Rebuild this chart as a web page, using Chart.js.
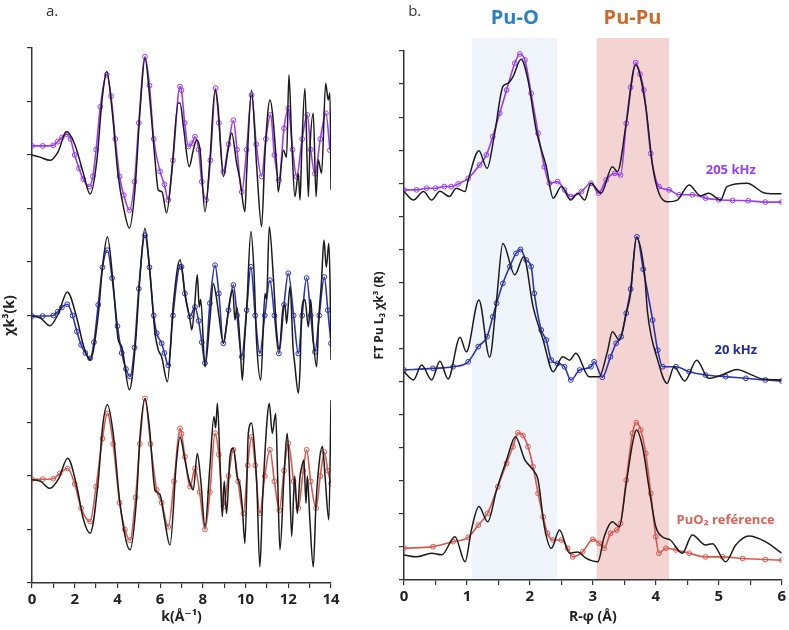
<!DOCTYPE html>
<html>
<head>
<meta charset="utf-8">
<script src="https://cdn.jsdelivr.net/npm/chart.js@4.4.0/dist/chart.umd.min.js"></script>
<style>
  body { margin: 0; background: #fff; width: 789px; height: 630px; overflow: hidden; position: relative; }
  canvas { position: absolute; top: 0; }
  #chartK { left: 0; }
  #chartR { left: 360px; }
</style>
</head>
<body>
<canvas id="chartK" width="345" height="630"></canvas>
<canvas id="chartR" width="429" height="630"></canvas>
<script>
// ---- panel a : chi(k) k^3, curves stacked with offsets ----
const k205exp = [0, 0.37, 0.84, 1.22, 1.62, 2.01, 2.39, 2.72, 3.04, 3.28,
  3.5, 3.75, 4.03, 4.31, 4.56, 4.82, 5.06, 5.29, 5.52, 5.76,
  5.91, 6.09, 6.3, 6.55, 6.85, 6.93, 7.1, 7.36, 7.55, 7.71,
  7.87, 8.1, 8.33, 8.57, 8.71, 8.96, 9.18, 9.35, 9.58, 9.74,
  9.97, 10.05, 10.28, 10.52, 10.75, 10.91, 11.14, 11.46, 11.53, 11.77,
  11.92, 12.03, 12.16, 12.31, 12.47, 12.55, 12.63, 12.78, 12.94, 13.01,
  13.17, 13.3, 13.4, 13.56, 13.75, 13.87, 13.95, 14.0];
const chi205exp = [8.0, 7.96, 7.9, 8.06, 8.44, 8.19, 7.68, 7.27, 7.91, 9.03,
  9.56, 8.84, 7.63, 6.97, 6.63, 7.35, 8.84, 9.81, 9.03, 7.91,
  7.35, 7.31, 6.92, 7.72, 8.97, 8.97, 8.5, 7.78, 8.09, 8.28,
  8.09, 6.94, 7.91, 9.21, 8.9, 7.6, 8.09, 8.41, 7.85, 7.53,
  6.94, 7.66, 9.21, 7.78, 6.66, 8.04, 9.03, 7.78, 7.31, 8.09,
  7.96, 9.5, 8.28, 7.22, 7.66, 7.16, 8.09, 9.25, 7.22, 8.09,
  8.78, 7.22, 7.91, 7.66, 9.34, 9.03, 9.16, 7.35];
const k205fit = [0, 0.5, 1.0, 1.2, 1.4, 1.62, 1.8, 2.0, 2.2, 2.4,
  2.68, 2.85, 3.0, 3.2, 3.5, 3.7, 3.9, 4.1, 4.3, 4.56,
  4.8, 5.0, 5.29, 5.5, 5.7, 6.0, 6.2, 6.38, 6.6, 6.93,
  7.0, 7.15, 7.32, 7.5, 7.63, 7.8, 7.95, 8.15, 8.35, 8.6,
  8.75, 8.96, 9.2, 9.43, 9.6, 9.82, 10.05, 10.28, 10.5, 10.75,
  10.95, 11.17, 11.35, 11.56, 11.8, 12.0, 12.2, 12.39, 12.65, 12.89,
  13.05, 13.25, 13.5, 13.76, 13.95];
const chi205fit = [8.17, 8.17, 8.18, 8.25, 8.33, 8.39, 8.3, 8.0, 7.75, 7.55,
  7.41, 7.6, 8.1, 8.9, 9.5, 9.1, 8.3, 7.6, 7.25, 6.97,
  7.5, 8.6, 9.84, 9.3, 8.3, 7.69, 7.45, 7.16, 7.9, 9.28,
  9.21, 8.6, 8.16, 8.22, 8.34, 8.1, 7.5, 7.16, 7.9, 9.25,
  8.6, 7.69, 8.2, 8.65, 8.1, 7.31, 8.1, 9.12, 8.2, 7.6,
  8.3, 8.75, 8.0, 7.53, 8.5, 8.87, 8.1, 7.6, 8.3, 8.75,
  8.1, 7.65, 8.3, 8.78, 8.09];

const k20exp = [0, 0.4, 0.84, 1.25, 1.65, 2.1, 2.4, 2.72, 3.1, 3.3,
  3.53, 3.8, 4.04, 4.2, 4.56, 4.85, 5.05, 5.29, 5.5, 5.76,
  5.91, 6.07, 6.34, 6.62, 6.93, 7.16, 7.4, 7.48, 7.6, 7.74,
  7.83, 7.9, 8.1, 8.33, 8.49, 8.63, 8.75, 8.96, 9.1, 9.27,
  9.4, 9.5, 9.6, 9.74, 9.85, 9.95, 10.05, 10.25, 10.39, 10.52,
  10.71, 10.91, 10.98, 11.11, 11.3, 11.46, 11.58, 11.74, 11.85, 11.92,
  12.08, 12.23, 12.3, 12.47, 12.55, 12.63, 12.78, 12.94, 13.05, 13.17,
  13.33, 13.42, 13.55, 13.67, 13.78, 13.9, 13.96, 14.0];
const chi20exp = [4.99, 4.95, 4.81, 5.05, 5.44, 4.95, 4.45, 4.17, 5.0, 5.9,
  6.47, 5.6, 4.54, 4.42, 3.61, 4.5, 5.7, 6.63, 5.9, 4.67,
  4.36, 4.23, 3.76, 5.23, 6.04, 5.41, 4.92, 4.73, 5.1, 5.76,
  5.16, 5.3, 4.04, 4.92, 5.6, 5.35, 5.0, 4.48, 4.8, 5.29,
  5.48, 4.92, 5.15, 4.48, 3.79, 4.5, 5.1, 6.57, 5.85, 4.48,
  3.79, 5.41, 5.3, 6.66, 5.72, 4.67, 4.36, 5.1, 5.2, 4.85,
  5.54, 4.36, 4.1, 3.55, 4.0, 5.1, 5.3, 4.79, 5.3, 4.54,
  4.04, 4.9, 5.6, 6.41, 5.9, 6.35, 5.5, 4.17];
const k20fit = [0, 0.5, 1.0, 1.2, 1.4, 1.65, 1.9, 2.1, 2.3, 2.5,
  2.72, 2.9, 3.1, 3.3, 3.53, 3.75, 4.0, 4.2, 4.4, 4.59,
  4.8, 5.0, 5.29, 5.5, 5.7, 5.84, 6.07, 6.2, 6.38, 6.6,
  6.93, 7.0, 7.16, 7.4, 7.63, 7.8, 7.95, 8.1, 8.33, 8.57,
  8.75, 8.96, 9.2, 9.43, 9.6, 9.82, 10.05, 10.25, 10.45, 10.67,
  10.9, 11.14, 11.35, 11.56, 11.8, 12.0, 12.25, 12.47, 12.65, 12.86,
  13.05, 13.25, 13.45, 13.69, 13.85, 14.0];
const chi20fit = [4.99, 4.99, 5.0, 5.07, 5.15, 5.21, 5.0, 4.7, 4.45, 4.3,
  4.2, 4.5, 5.2, 5.9, 6.22, 5.7, 4.8, 4.3, 4.0, 3.86,
  4.4, 5.5, 6.5, 5.9, 5.0, 4.67, 4.48, 4.3, 4.07, 5.0,
  5.91, 5.91, 5.41, 4.98, 5.16, 4.9, 4.5, 4.11, 5.23, 5.94,
  5.41, 4.48, 5.1, 5.57, 5.0, 4.23, 5.1, 5.91, 5.0, 4.29,
  5.0, 5.66, 5.0, 4.29, 5.2, 5.79, 5.0, 4.29, 5.0, 5.7,
  5.0, 4.32, 5.0, 5.72, 5.1, 4.48];

const kRefExp = [0, 0.4, 0.84, 1.25, 1.67, 2.1, 2.4, 2.72, 3.1, 3.3,
  3.53, 3.8, 4.12, 4.59, 4.9, 5.05, 5.29, 5.5, 5.76, 5.99,
  6.2, 6.46, 6.77, 6.93, 7.16, 7.35, 7.55, 7.74, 7.9, 8.1,
  8.33, 8.52, 8.6, 8.68, 8.8, 8.91, 9.0, 9.11, 9.27, 9.43,
  9.6, 9.75, 9.85, 9.97, 10.13, 10.28, 10.4, 10.52, 10.67, 10.8,
  11.02, 11.11, 11.25, 11.41, 11.5, 11.61, 11.8, 11.95, 12.05, 12.16,
  12.3, 12.42, 12.55, 12.63, 12.73, 12.83, 12.89, 13.01, 13.17, 13.3,
  13.48, 13.6, 13.72, 13.9, 14.0];
const chiRefExp = [1.93, 1.9, 1.77, 1.95, 2.33, 1.8, 1.2, 0.93, 1.9, 2.9,
  3.33, 2.8, 1.49, 0.62, 1.6, 2.7, 3.45, 2.9, 1.74, 1.66,
  1.2, 0.71, 2.3, 2.73, 2.3, 1.93, 1.74, 2.42, 1.93, 1.05,
  2.18, 3.11, 2.9, 3.36, 2.3, 1.24, 1.9, 1.3, 2.36, 2.52,
  2.0, 1.8, 1.4, 0.74, 2.8, 2.99, 2.6, 1.9, 0.3, 1.6,
  3.11, 3.36, 2.8, 3.17, 2.0, 0.62, 2.0, 2.8, 2.1, 0.87,
  2.0, 1.3, 2.0, 2.17, 2.3, 1.49, 2.0, 1.18, 0.3, 1.5,
  2.36, 2.55, 2.0, 1.18, 3.42];
const kRefFit = [0, 0.5, 1.0, 1.3, 1.67, 2.0, 2.3, 2.72, 3.0, 3.3,
  3.53, 3.8, 4.1, 4.35, 4.59, 4.85, 5.05, 5.29, 5.55, 5.84,
  6.07, 6.38, 6.65, 6.93, 7.0, 7.16, 7.4, 7.63, 7.85, 8.1,
  8.33, 8.57, 8.75, 8.96, 9.2, 9.43, 9.65, 9.9, 10.1, 10.28,
  10.45, 10.67, 10.9, 11.14, 11.35, 11.58, 11.8, 12.0, 12.25, 12.47,
  12.7, 12.86, 13.05, 13.3, 13.5, 13.69, 13.85, 14.0];
const chiRefFit = [1.94, 1.94, 1.95, 2.05, 2.14, 1.85, 1.4, 1.15, 1.8, 2.7,
  3.17, 2.6, 1.5, 1.0, 0.8, 1.6, 2.6, 3.45, 2.6, 1.74,
  1.5, 1.05, 1.9, 2.89, 2.79, 2.36, 1.8, 2.14, 1.7, 1.0,
  1.7, 2.8, 2.4, 1.43, 2.0, 2.49, 1.9, 1.3, 2.2, 2.73,
  2.2, 1.3, 2.0, 2.49, 1.9, 1.36, 2.1, 2.61, 1.9, 1.4,
  2.1, 2.49, 1.9, 1.4, 2.0, 2.45, 2.1, 1.86];

// ---- panel b : Fourier transforms, stacked ----
const r205exp = [0, 0.15, 0.31, 0.44, 0.57, 0.72, 0.83, 0.97, 1.02, 1.19,
  1.32, 1.44, 1.57, 1.65, 1.73, 1.86, 1.97, 2.1, 2.26, 2.37,
  2.5, 2.65, 2.76, 2.87, 2.97, 3.13, 3.31, 3.39, 3.53, 3.68,
  3.84, 3.95, 4.05, 4.18, 4.34, 4.53, 4.71, 4.84, 5.03, 5.13,
  5.45, 5.74, 6.0];
const ft205exp = [11.75, 11.49, 11.75, 11.49, 11.76, 11.6, 11.85, 11.75, 12.1, 12.98,
  12.45, 13.51, 14.92, 15.02, 15.22, 15.75, 15.12, 13.61, 12.5, 11.55,
  11.9, 11.49, 11.7, 11.49, 12.0, 11.7, 12.5, 12.35, 13.81, 15.58,
  14.32, 12.5, 11.7, 11.44, 11.49, 11.95, 11.62, 11.7, 11.49, 11.9,
  12.0, 11.7, 11.68];
const r205fit = [0, 0.2, 0.36, 0.5, 0.64, 0.75, 0.86, 1.02, 1.2, 1.31,
  1.41, 1.52, 1.63, 1.76, 1.84, 1.92, 2.02, 2.13, 2.23, 2.31,
  2.44, 2.55, 2.65, 2.82, 2.97, 3.09, 3.21, 3.35, 3.44, 3.53,
  3.6, 3.68, 3.75, 3.81, 3.92, 4.05, 4.21, 4.37, 4.58, 4.79,
  5.0, 5.22, 5.47, 5.74, 6.0];
const ft205fit = [11.8, 11.8, 11.85, 11.85, 11.9, 11.9, 11.98, 12.15, 12.55, 12.86,
  13.41, 14.12, 14.82, 15.63, 15.91, 15.73, 14.72, 13.51, 12.5, 12.0,
  12.05, 11.8, 11.6, 11.75, 12.0, 11.7, 12.1, 12.3, 12.25, 13.81,
  14.9, 15.65, 15.3, 14.82, 12.9, 11.9, 11.8, 11.65, 11.65, 11.55,
  11.5, 11.48, 11.47, 11.43, 11.43];

const r20exp = [0, 0.15, 0.28, 0.44, 0.57, 0.7, 0.89, 0.99, 1.19, 1.36,
  1.47, 1.57, 1.76, 1.9, 2.05, 2.21, 2.37, 2.52, 2.63, 2.73,
  2.94, 3.1, 3.23, 3.31, 3.42, 3.53, 3.6, 3.69, 3.82, 3.87,
  4.03, 4.18, 4.29, 4.46, 4.65, 4.84, 5.05, 5.29, 5.47, 5.69,
  6.0];
const ft20exp = [6.3, 6.05, 6.5, 6.05, 6.62, 6.08, 7.34, 6.9, 8.47, 6.74,
  8.47, 10.18, 9.23, 9.78, 8.27, 7.26, 6.3, 6.75, 6.65, 6.86,
  6.15, 6.15, 6.9, 7.51, 7.26, 8.07, 8.67, 10.37, 9.28, 8.07,
  6.65, 5.95, 6.45, 6.02, 6.65, 6.1, 6.2, 6.37, 6.25, 6.08,
  6.05];
const r20fit = [0, 0.46, 0.78, 1.02, 1.18, 1.32, 1.41, 1.47, 1.57, 1.68,
  1.78, 1.85, 1.94, 2.02, 2.07, 2.18, 2.26, 2.34, 2.44, 2.55,
  2.65, 2.79, 2.97, 3.02, 3.15, 3.28, 3.37, 3.45, 3.53, 3.6,
  3.7, 3.8, 3.95, 4.03, 4.11, 4.32, 4.53, 4.79, 5.11, 5.43,
  5.74, 6.0];
const ft20fit = [6.35, 6.4, 6.45, 6.6, 7.06, 7.36, 7.96, 8.37, 8.97, 9.48,
  9.88, 10.0, 9.68, 9.48, 8.67, 7.56, 7.26, 6.65, 6.55, 6.45,
  6.05, 6.35, 6.45, 6.6, 6.13, 6.75, 7.16, 7.36, 8.07, 8.8,
  10.38, 9.4, 7.86, 6.95, 6.45, 6.45, 6.3, 6.2, 6.15, 6.1,
  6.05, 6.02];

const rRefExp = [0, 0.2, 0.44, 0.6, 0.81, 0.97, 1.07, 1.19, 1.33, 1.47,
  1.63, 1.77, 1.92, 2.05, 2.13, 2.23, 2.34, 2.47, 2.63, 2.76,
  2.89, 3.08, 3.18, 3.31, 3.42, 3.53, 3.63, 3.69, 3.79, 3.89,
  4.0, 4.1, 4.23, 4.42, 4.58, 4.79, 4.9, 5.11, 5.27, 5.48,
  5.74, 6.0];
const ftRefExp = [0.76, 0.7, 0.81, 0.76, 1.31, 0.55, 1.51, 2.22, 1.76, 2.72,
  3.63, 4.33, 3.63, 3.33, 3.02, 1.61, 0.96, 1.51, 0.81, 0.85,
  0.66, 0.55, 1.31, 1.76, 1.61, 2.92, 4.13, 4.54, 4.03, 2.82,
  1.61, 1.31, 1.21, 0.81, 1.36, 1.06, 1.1, 0.55, 1.06, 1.33,
  1.16, 0.81];
const rRefFit = [0, 0.46, 0.78, 1.02, 1.18, 1.33, 1.49, 1.63, 1.73, 1.81,
  1.89, 1.97, 2.05, 2.13, 2.21, 2.28, 2.37, 2.5, 2.6, 2.68,
  2.84, 3.0, 3.1, 3.18, 3.28, 3.38, 3.44, 3.53, 3.63, 3.69,
  3.76, 3.84, 3.92, 4.0, 4.05, 4.16, 4.32, 4.53, 4.79, 5.06,
  5.38, 5.74, 6.0];
const ftRefFit = [0.96, 1.01, 1.16, 1.29, 1.66, 2.02, 2.82, 3.53, 4.03, 4.45,
  4.37, 4.03, 3.43, 2.62, 1.91, 1.41, 1.21, 1.21, 0.96, 0.7,
  0.86, 1.23, 1.11, 0.96, 1.41, 1.51, 1.71, 3.02, 4.44, 4.76,
  4.54, 3.83, 2.62, 1.31, 0.81, 0.96, 0.91, 0.81, 0.7, 0.7,
  0.65, 0.62, 0.6];

// shaded shells in R (Å)
const shellPuO = [1.08, 2.43];
const shellPuPu = [3.06, 4.21];

const FONT = "'Open Sans', 'DejaVu Sans', sans-serif";
const PURPLE = '#9b3cf4';
const BLUE = '#2d33b5';
const RED = '#d9584f';

function pts(xs, ys) {
  return xs.map((x, i) => ({ x: x, y: ys[i] }));
}

function expSet(label, xs, ys) {
  return {
    label, data: pts(xs, ys),
    borderColor: '#1b1b1b', borderWidth: 1.5,
    pointRadius: 0, cubicInterpolationMode: 'monotone', order: 1
  };
}

function fitSet(label, xs, ys, color) {
  return {
    label, data: pts(xs, ys),
    borderColor: color, borderWidth: 1.6,
    pointRadius: 2.4, pointBorderWidth: 1,
    pointBorderColor: color, pointBackgroundColor: 'rgba(255,255,255,0)',
    cubicInterpolationMode: 'monotone', order: 2
  };
}

function xAxis(max, step, every, title, height) {
  return {
    type: 'linear', min: 0, max: max,
    ticks: {
      stepSize: step, autoSkip: false, maxRotation: 0, padding: 3, color: '#222',
      font: { family: FONT, size: 15, weight: 'bold' },
      callback: (v) => (Math.abs(v % every) < 1e-6 ? v : '')
    },
    grid: { drawOnChartArea: false, drawTicks: true, tickLength: 5, color: '#333', lineWidth: 1.2 },
    border: { display: true, color: '#333', width: 1.5 },
    title: {
      display: true, text: title, color: '#222',
      font: { family: FONT, size: 14, weight: 'bold' },
      padding: { top: 0, bottom: 5 }
    },
    afterFit: (s) => { s.height = height; }
  };
}

function yAxis(max, title, size, pad, width) {
  return {
    type: 'linear', min: 0, max: max,
    ticks: { display: false, stepSize: 1 },
    grid: { drawOnChartArea: false, drawTicks: true, tickLength: 5, color: '#333', lineWidth: 1.2 },
    border: { display: true, color: '#333', width: 1.5 },
    title: {
      display: true, text: title, color: '#222',
      font: { family: FONT, size: size, weight: 'bold' },
      padding: { top: pad, bottom: 0 }
    },
    afterFit: (s) => { s.width = width; }
  };
}

// shaded bands + text notes, placed through the chart scales
const decor = {
  id: 'decor',
  beforeDraw(chart, args, opts) {
    const { ctx, chartArea, scales } = chart;
    (opts.bands || []).forEach((b) => {
      const x1 = scales.x.getPixelForValue(b.from);
      const x2 = scales.x.getPixelForValue(b.to);
      ctx.save();
      ctx.fillStyle = b.color;
      ctx.fillRect(x1, b.top, x2 - x1, chartArea.bottom - b.top);
      ctx.restore();
    });
  },
  afterDraw(chart, args, opts) {
    const { ctx, scales } = chart;
    (opts.notes || []).forEach((n) => {
      ctx.save();
      ctx.font = n.font;
      ctx.fillStyle = n.color;
      ctx.textAlign = 'center';
      ctx.textBaseline = 'middle';
      ctx.fillText(n.text, scales.x.getPixelForValue(n.x), scales.y.getPixelForValue(n.y));
      ctx.restore();
    });
  }
};

const common = {
  responsive: false,
  animation: false,
  events: [],
  plugins: { legend: { display: false }, tooltip: { enabled: false } }
};

new Chart(document.getElementById('chartK'), {
  type: 'line',
  data: {
    datasets: [
      expSet('205 kHz', k205exp, chi205exp),
      fitSet('205 kHz fit', k205fit, chi205fit, PURPLE),
      expSet('20 kHz', k20exp, chi20exp),
      fitSet('20 kHz fit', k20fit, chi20fit, BLUE),
      expSet('PuO2', kRefExp, chiRefExp),
      fitSet('PuO2 fit', kRefFit, chiRefFit, RED)
    ]
  },
  options: {
    ...common,
    layout: { padding: { left: 0, top: 48, right: 14, bottom: 0 } },
    scales: {
      x: xAxis(14, 1, 2, 'k(Å⁻¹)', 47),
      y: yAxis(10, 'χk³(k)', 14, 2, 32)
    },
    plugins: {
      ...common.plugins,
      decor: {
        notes: [
          { text: 'a.', x: 0.94, y: 10.67, color: '#333', font: '15px ' + FONT }
        ]
      }
    }
  },
  plugins: [decor]
});

new Chart(document.getElementById('chartR'), {
  type: 'line',
  data: {
    datasets: [
      expSet('205 kHz', r205exp, ft205exp),
      fitSet('205 kHz fit', r205fit, ft205fit, PURPLE),
      expSet('20 kHz', r20exp, ft20exp),
      fitSet('20 kHz fit', r20fit, ft20fit, BLUE),
      expSet('PuO2', rRefExp, ftRefExp),
      fitSet('PuO2 fit', rRefFit, ftRefFit, RED)
    ]
  },
  options: {
    ...common,
    layout: { padding: { left: 0, top: 51, right: 6, bottom: 0 } },
    scales: {
      x: xAxis(6, 0.5, 1, 'R-φ (Å)', 50),
      y: yAxis(16, 'FT Pu L₃ χk³ (R)', 12, 12, 44)
    },
    plugins: {
      ...common.plugins,
      decor: {
        bands: [
          { from: shellPuO[0], to: shellPuO[1], top: 38, color: '#eef4fa' },
          { from: shellPuPu[0], to: shellPuPu[1], top: 38, color: '#f4d3d3' }
        ],
        notes: [
          { text: 'b.', x: 0.17, y: 17.18, color: '#333', font: '15px ' + FONT },
          { text: 'Pu-O', x: 1.76, y: 17.0, color: '#2a80c6', font: 'bold 20px ' + FONT },
          { text: 'Pu-Pu', x: 3.63, y: 17.0, color: '#cc6a2c', font: 'bold 20px ' + FONT },
          { text: '205 kHz', x: 5.19, y: 12.4, color: PURPLE, font: 'bold 13px ' + FONT },
          { text: '20 kHz', x: 5.27, y: 6.96, color: '#1f2a9e', font: 'bold 13px ' + FONT },
          { text: 'PuO₂ reférence', x: 5.11, y: 1.81, color: '#dc625a', font: 'bold 13px ' + FONT }
        ]
      }
    }
  },
  plugins: [decor]
});
</script>
</body>
</html>
